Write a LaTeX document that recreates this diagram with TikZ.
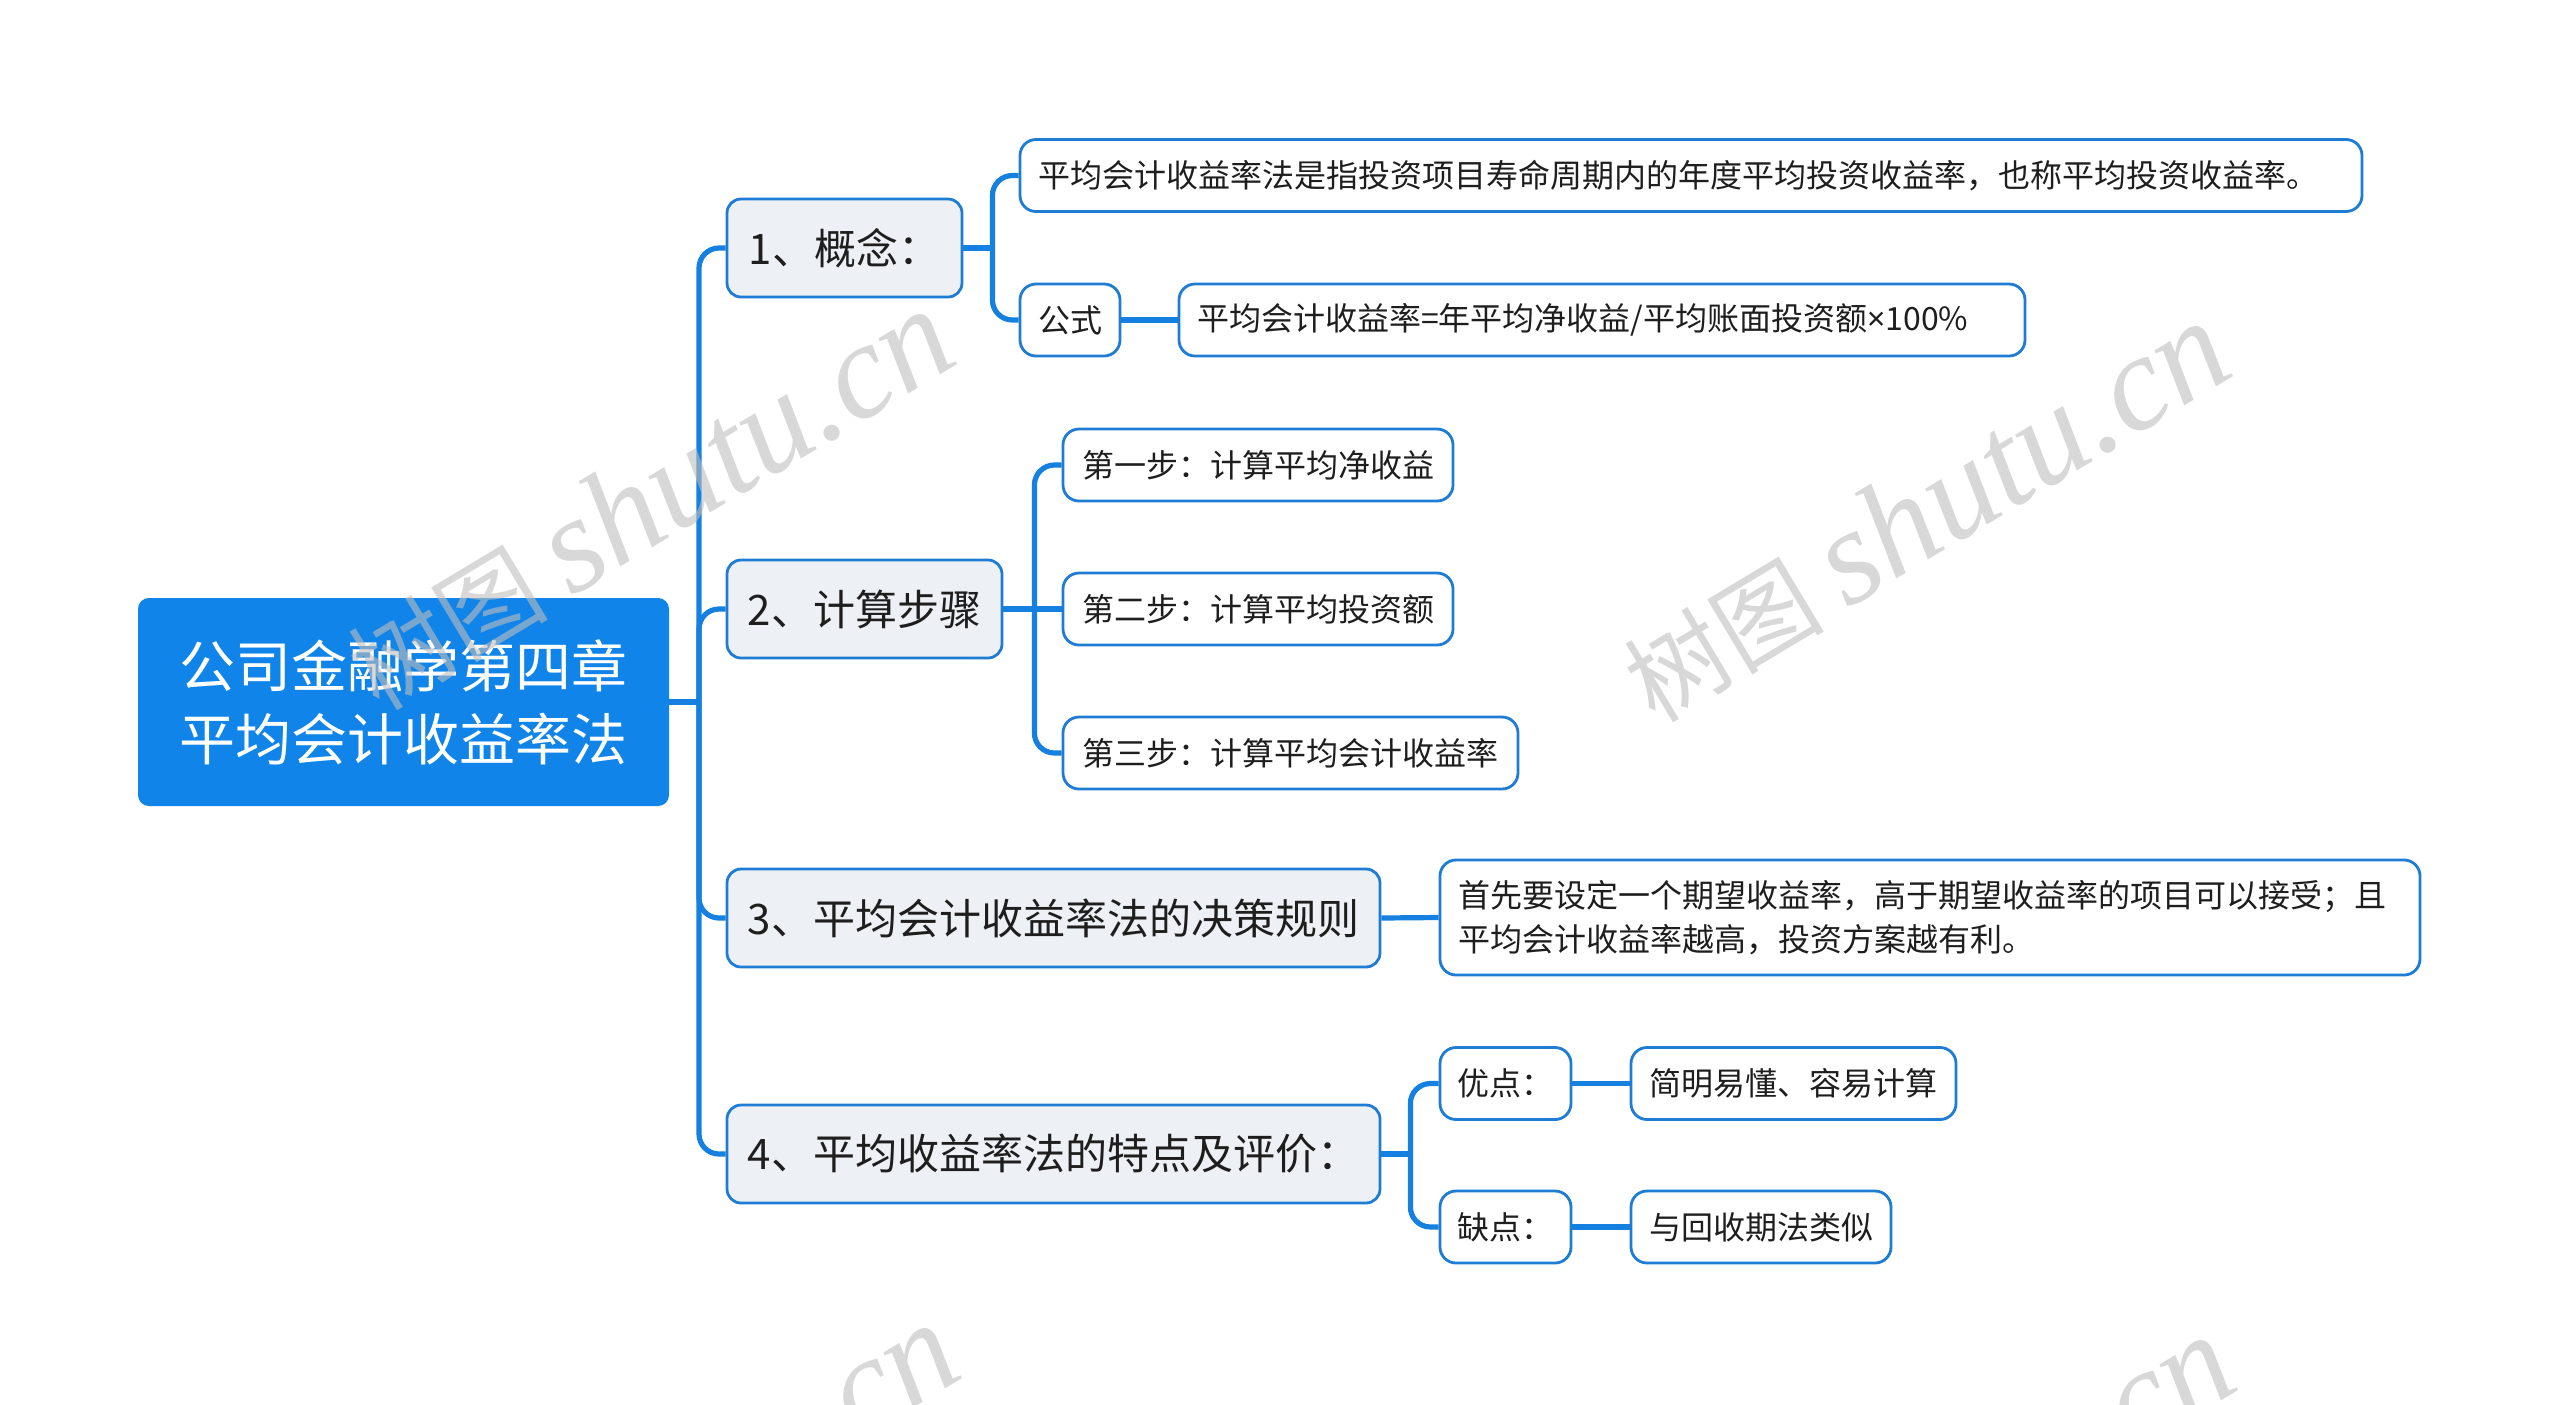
\documentclass[tikz,border=0pt]{standalone}
\usepackage{fontspec}
\newfontfamily\cjk{Noto Sans CJK SC}
\newfontfamily\latinsans{Noto Sans}
\newfontfamily\wmlatin{Liberation Serif}
\definecolor{rootblue}{RGB}{16,132,232}
\definecolor{linkblue}{RGB}{22,128,224}
\definecolor{borderblue}{RGB}{30,124,212}
\definecolor{lvlfill}{RGB}{237,241,245}
\definecolor{txt}{RGB}{30,30,30}
\definecolor{wmgray}{RGB}{190,190,190}
\newcommand{\wmtext}{{\cjk\fontsize{50}{50}\selectfont 树图}\hspace{12pt}{\wmlatin\itshape\fontsize{68}{68}\selectfont shutu.cn}}
\begin{document}
\begin{tikzpicture}[x=0.5pt,y=-0.5pt,
  rootbox/.style={draw=rootblue, fill=rootblue, rounded corners=5pt, text=white,
    font=\cjk\fontsize{28}{36.5}\selectfont, align=center, inner sep=0pt, line width=1pt},
  lvlone/.style={draw=borderblue, fill=lvlfill, rounded corners=7pt, line width=1.4pt,
    text=txt, font=\cjk\fontsize{21}{26}\selectfont, inner sep=0pt, minimum height=49pt},
  lvltwo/.style={draw=borderblue, fill=white, rounded corners=8pt, line width=1.4pt,
    text=txt, font=\cjk\fontsize{16}{22}\selectfont, inner sep=0pt, minimum height=36pt},
  link/.style={draw=linkblue, line width=2.6pt},
  curved/.style={link, rounded corners=10pt},
  wm/.style={text=wmgray, text opacity=0.6, rotate=31, inner sep=0pt}
]
\fill[white] (0,0) rectangle (2560,1404);
\path[use as bounding box] (0,0) rectangle (2560,1404);

% root
\node[rootbox, minimum width=264.5pt, minimum height=103pt] (root) at (403.5,702)
  {公司金融学第四章\\平均会计收益率法};

% level one
\node[lvlone, minimum width=117.5pt] (n1) at (844.5,248) {1、概念：};
\node[lvlone, minimum width=137.5pt] (n2) at (864.5,609) {2、计算步骤};
\node[lvlone, minimum width=326.5pt] (n3) at (1053.5,918) {3、平均会计收益率法的决策规则};
\node[lvlone, minimum width=326.5pt] (n4) at (1053.5,1154) {4、平均收益率法的特点及评价：};

% level two
\node[lvltwo, minimum width=671pt, text width=653pt, align=left] (c1a) at (1691,175.5)
  {平均会计收益率法是指投资项目寿命周期内的年度平均投资收益率，也称平均投资收益率。};
\node[lvltwo, minimum width=50pt] (c1b) at (1070,320) {公式};
\node[lvltwo, minimum width=423pt, text width=405pt, align=left] (c1c) at (1602,320)
  {平均会计收益率=年平均净收益/平均账面投资额{\latinsans ×}100\%};
\node[lvltwo, minimum width=195pt] (c2a) at (1258,465) {第一步：计算平均净收益};
\node[lvltwo, minimum width=195pt] (c2b) at (1258,609) {第二步：计算平均投资额};
\node[lvltwo, minimum width=227.5pt] (c2c) at (1290.5,753) {第三步：计算平均会计收益率};
\node[lvltwo, minimum width=490pt, minimum height=57.5pt, text width=472pt, align=left] (c3) at (1930,917.5)
  {首先要设定一个期望收益率，高于期望收益率的项目可以接受；且\\平均会计收益率越高，投资方案越有利。};
\node[lvltwo, minimum width=65.5pt] (c4a) at (1505.5,1083.5) {优点：};
\node[lvltwo, minimum width=162.5pt] (c4b) at (1793.5,1083.5) {简明易懂、容易计算};
\node[lvltwo, minimum width=65.5pt] (c4c) at (1505.5,1227) {缺点：};
\node[lvltwo, minimum width=130pt] (c4d) at (1761,1227) {与回收期法类似};

% junctions
\coordinate (j0) at ([xshift=15pt]root.east);
\coordinate (j1) at ([xshift=14.5pt]n1.east);
\coordinate (j2) at ([xshift=15.5pt]n2.east);
\coordinate (j4) at ([xshift=14.5pt]n4.east);

% connectors
\draw[link] (root.east) -- (j0);
\draw[curved] (j0) |- (n1.west);
\draw[curved] (j0) |- (n2.west);
\draw[curved] (j0) |- (n3.west);
\draw[curved] (j0) |- (n4.west);

\draw[link] (n1.east) -- (j1);
\draw[curved] (j1) |- (c1a.west);
\draw[curved] (j1) |- (c1b.west);
\draw[link] (c1b.east) -- (c1c.west);

\draw[link] (n2.east) -- (j2);
\draw[curved] (j2) |- (c2a.west);
\draw[link] (j2) -- (c2b.west);
\draw[curved] (j2) |- (c2c.west);

\draw[link] (n3.east) -- (c3.west);

\draw[link] (n4.east) -- (j4);
\draw[curved] (j4) |- (c4a.west);
\draw[curved] (j4) |- (c4c.west);
\draw[link] (c4a.east) -- (c4b.west);
\draw[link] (c4c.east) -- (c4d.west);

% watermarks
\begin{scope}
\clip (0,0) rectangle (2560,1404);
\node[wm] (wm1) at (649,500) {\wmtext};
\node[wm] (wm2) at (1925,512) {\wmtext};
\node[wm] (wm3) at (654,1514) {\wmtext};
\node[wm] (wm4) at (1930,1526) {\wmtext};
\end{scope}
\end{tikzpicture}
\end{document}
